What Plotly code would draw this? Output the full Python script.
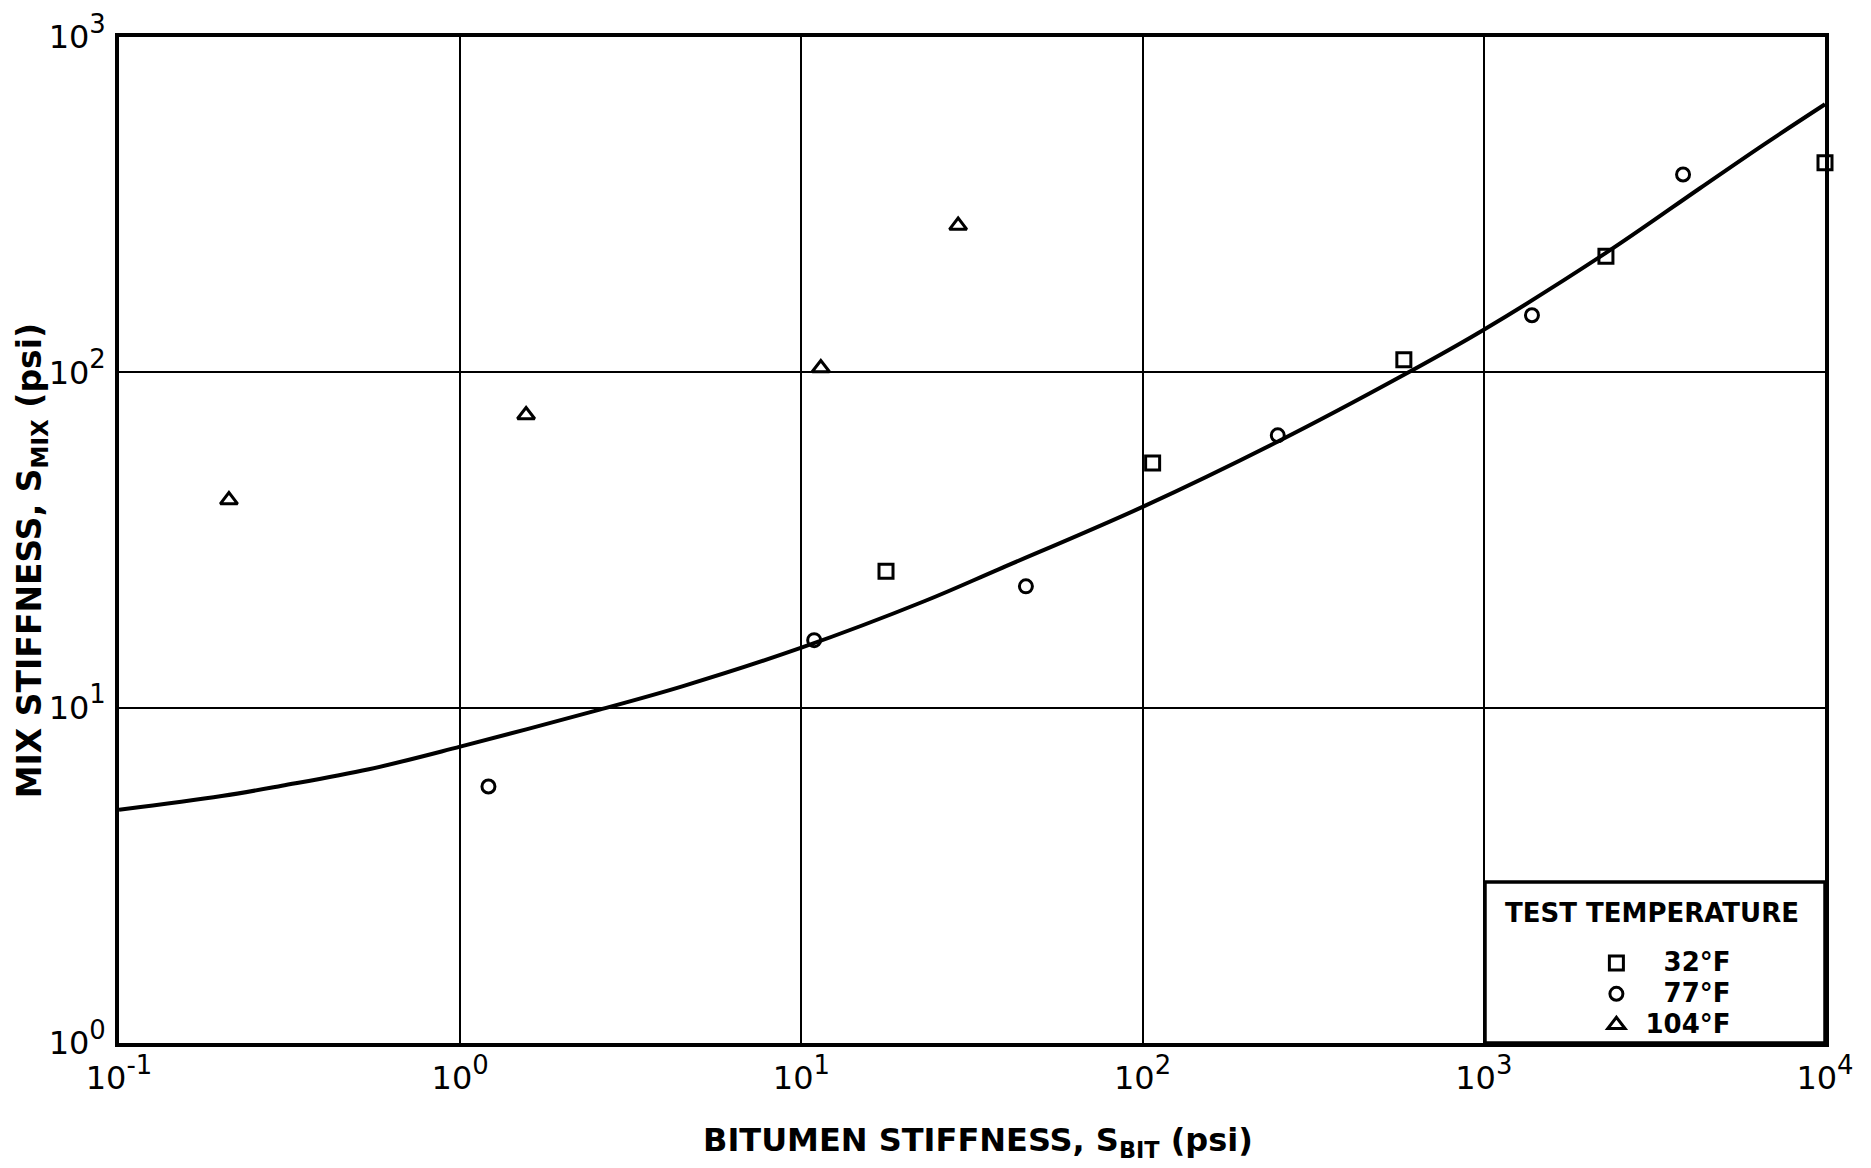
import plotly.graph_objects as go

# Measured stiffness pairs (bitumen stiffness, mix stiffness), psi
s32_bit = [17.7, 107, 583, 2280, 10000]
s32_mix = [25.5, 53.7, 109, 222, 422]

s77_bit = [1.21, 10.9, 45.5, 249, 1384, 3837]
s77_mix = [5.82, 15.9, 23.0, 64.9, 148, 389]

s104_bit = [0.21, 1.56, 11.4, 28.8]
s104_mix = [41.6, 74.6, 103, 274]

# Fitted relationship S_mix vs S_bit
fit_bit = [0.1, 0.2, 0.3, 0.54, 1.0, 2.5, 4.5, 10, 23, 38, 100, 250, 580, 1000, 2280, 4300, 6600, 10000]
fit_mix = [4.96, 5.45, 5.85, 6.55, 7.65, 9.8, 11.6, 15.1, 20.8, 25.9, 39.7, 62.3, 98, 134, 227, 354, 477, 630]

tick_x_vals = [0.1, 1, 10, 100, 1000, 10000]
tick_x_exp = ["-1", "0", "1", "2", "3", "4"]
tick_y_vals = [1, 10, 100, 1000]
tick_y_exp = ["0", "1", "2", "3"]

FONT = "DejaVu Sans"
INK = "black"
FIG_SP = "\u2007"  # digit-wide space keeps the legend labels flush right


def power_label(exp):
    # larger wrapper so the 70% superscript comes out close to the base digits
    return '10<span style="font-size:37px"><sup>' + exp + "</sup></span>"


def legend_label(text):
    return '<span style="font-size:26px">&nbsp;' + text + "</span>"


fig = go.Figure()

fig.add_trace(go.Scatter(
    x=fit_bit, y=fit_mix, mode="lines",
    line=dict(color=INK, width=4, shape="spline", smoothing=1.0),
    showlegend=False, hoverinfo="skip",
))

marker_line = dict(color=INK, width=3)
fig.add_trace(go.Scatter(
    x=s32_bit, y=s32_mix, mode="markers", name=legend_label(FIG_SP + "32°F"),
    marker=dict(symbol="square-open", size=14, color=INK, line=marker_line),
    cliponaxis=False,
))
fig.add_trace(go.Scatter(
    x=s77_bit, y=s77_mix, mode="markers", name=legend_label(FIG_SP + "77°F"),
    marker=dict(symbol="circle-open", size=13, color=INK, line=marker_line),
    cliponaxis=False,
))
fig.add_trace(go.Scatter(
    x=s104_bit, y=s104_mix, mode="markers", name=legend_label("104°F"),
    marker=dict(symbol="triangle-up-open", size=15, color=INK, line=marker_line),
    cliponaxis=False,
))

axis_common = dict(
    type="log", automargin=False,
    showgrid=True, gridcolor=INK, gridwidth=1.6,
    showline=True, linecolor=INK, linewidth=3.5, mirror=True,
    ticks="", zeroline=False,
    tickfont=dict(family=FONT, size=32, color=INK),
)

fig.update_xaxes(range=[-1, 4], tickvals=tick_x_vals,
                 ticktext=[power_label(e) for e in tick_x_exp],
                 ticklabelstandoff=4, **axis_common)
fig.update_yaxes(range=[0, 3], tickvals=tick_y_vals,
                 ticktext=[power_label(e) for e in tick_y_exp],
                 ticklabelstandoff=3, **axis_common)

# Legend frame and heading
fig.add_shape(type="rect", xref="paper", yref="paper",
              x0=0.8007, x1=1.0, y0=0.0, y1=0.160,
              line=dict(color=INK, width=3.5), fillcolor="white", layer="below")
fig.add_annotation(text="TEST TEMPERATURE", xref="paper", yref="paper",
                   x=0.8986, y=0.129, xanchor="center", yanchor="middle",
                   showarrow=False, font=dict(family=FONT, size=26, color=INK, weight="bold"))

# Axis titles
fig.add_annotation(text="BITUMEN STIFFNESS, S<sub>BIT</sub> (psi)", xref="paper", yref="paper",
                   x=0.5035, y=-0.098, xanchor="center", yanchor="middle",
                   showarrow=False, font=dict(family=FONT, size=32, color=INK, weight="bold"))
fig.add_annotation(text="MIX STIFFNESS, S<sub>MIX</sub> (psi)", xref="paper", yref="paper",
                   x=-0.0515, y=0.479, xanchor="center", yanchor="middle", textangle=-90,
                   showarrow=False, font=dict(family=FONT, size=33, color=INK, weight="bold"))

fig.update_layout(
    width=1871, height=1168,
    margin=dict(l=119, r=46, t=37, b=125),
    paper_bgcolor="white", plot_bgcolor="white",
    font=dict(family=FONT, color=INK),
    legend=dict(
        x=0.866, y=0.100, xanchor="left", yanchor="top",
        bgcolor="rgba(0,0,0,0)", borderwidth=0,
        font=dict(family=FONT, size=21.5, color=INK, weight="bold"),
        itemsizing="trace", tracegroupgap=0,
    ),
)

fig.write_html("out.html")
